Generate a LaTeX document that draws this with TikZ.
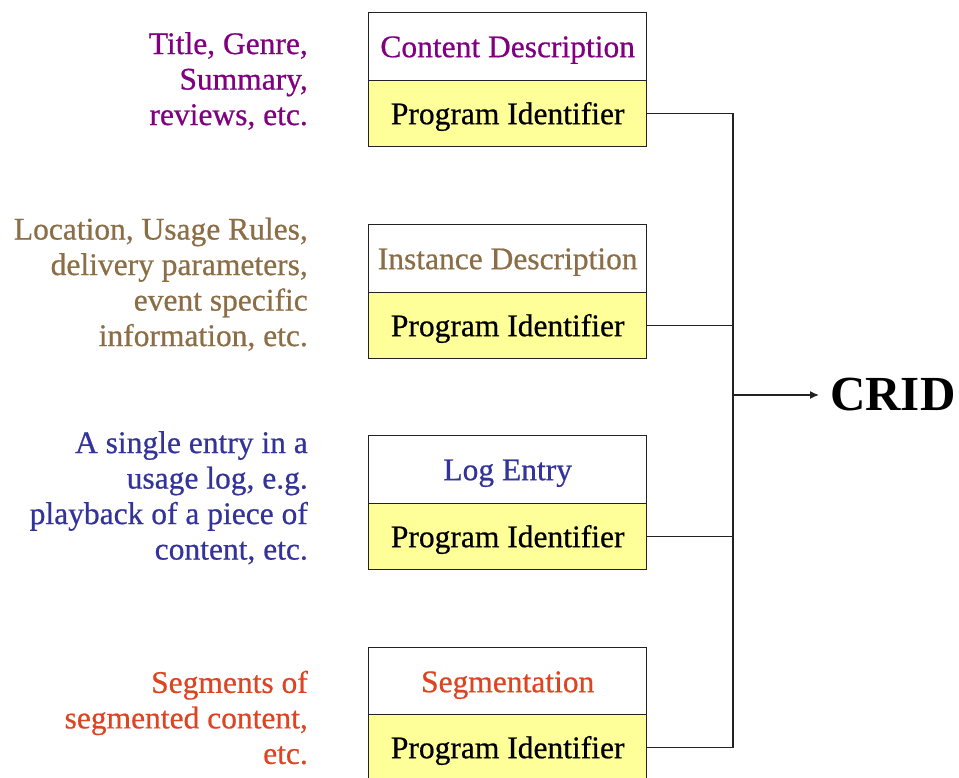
\documentclass[tikz,border=0pt]{standalone}
\usepackage{fontspec}
\setmainfont{Liberation Serif}[UprightFeatures={FakeBold=0.6}]
\usetikzlibrary{arrows.meta}
\definecolor{cpurple}{RGB}{128,0,128}
\definecolor{cbrown}{RGB}{140,110,70}
\definecolor{cblue}{RGB}{51,51,153}
\definecolor{cred}{RGB}{221,68,34}
\definecolor{pidyellow}{RGB}{255,255,153}
\definecolor{linec}{RGB}{34,34,34}
\begin{document}
\begin{tikzpicture}[x=1pt,y=-1pt,
  txt/.style={font=\fontsize{31.5}{35.5}\selectfont},
  boxrow/.style={txt, draw=linec, line width=1.4pt, minimum width=278pt, anchor=north west, inner sep=0pt, text height=23pt, text depth=2pt},
  hdr/.style={boxrow, fill=white, minimum height=68pt},
  pid/.style={boxrow, fill=pidyellow, minimum height=66pt, text=black},
  desc/.style={txt, anchor=north east, align=right, inner sep=0pt},
  wire/.style={line width=1.4pt, draw=linec}]
\useasboundingbox (0,0) rectangle (959,778);
\clip (0,0) rectangle (959,778);
% boxes
\node[hdr, text=cpurple] (h1) at (368,12) {Content Description};
\node[pid] (p1) at (368,80) {Program Identifier};
\node[hdr, text=cbrown] (h2) at (368,224) {Instance Description};
\node[pid] (p2) at (368,292) {Program Identifier};
\node[hdr, text=cblue] (h3) at (368,435) {Log Entry};
\node[pid] (p3) at (368,503) {Program Identifier};
\node[hdr, text=cred] (h4) at (368,647) {Segmentation};
\node[pid] (p4) at (368,714) {Program Identifier};
% descriptions
\node[desc, text=cpurple] (t1) at (308,32) {Title, Genre,\\Summary,\\reviews, etc.};
\node[desc, text=cbrown] (t2) at (308,217.5) {Location, Usage Rules,\\delivery parameters,\\event specific\\information, etc.};
\node[desc, text=cblue] (t3) at (308,431) {A single entry in a\\usage log, e.g.\\playback of a piece of\\content, etc.};
\node[desc, text=cred] (t4) at (308,670.5) {Segments of\\segmented content,\\etc.};
% connectors
\coordinate (j) at (733,395);
\node[font=\bfseries\fontsize{49}{49}\selectfont, anchor=west, inner sep=0pt] (crid) at (830,395) {CRID};
\draw[wire] (p1.east) -| (j) |- (p4.east);
\draw[wire] (p2.east) -- (p2.east -| j);
\draw[wire] (p3.east) -- (p3.east -| j);
\draw[wire, -{Latex[length=9pt,width=8pt]}] (j) -- ([xshift=-11pt]crid.west);
\end{tikzpicture}
\end{document}
